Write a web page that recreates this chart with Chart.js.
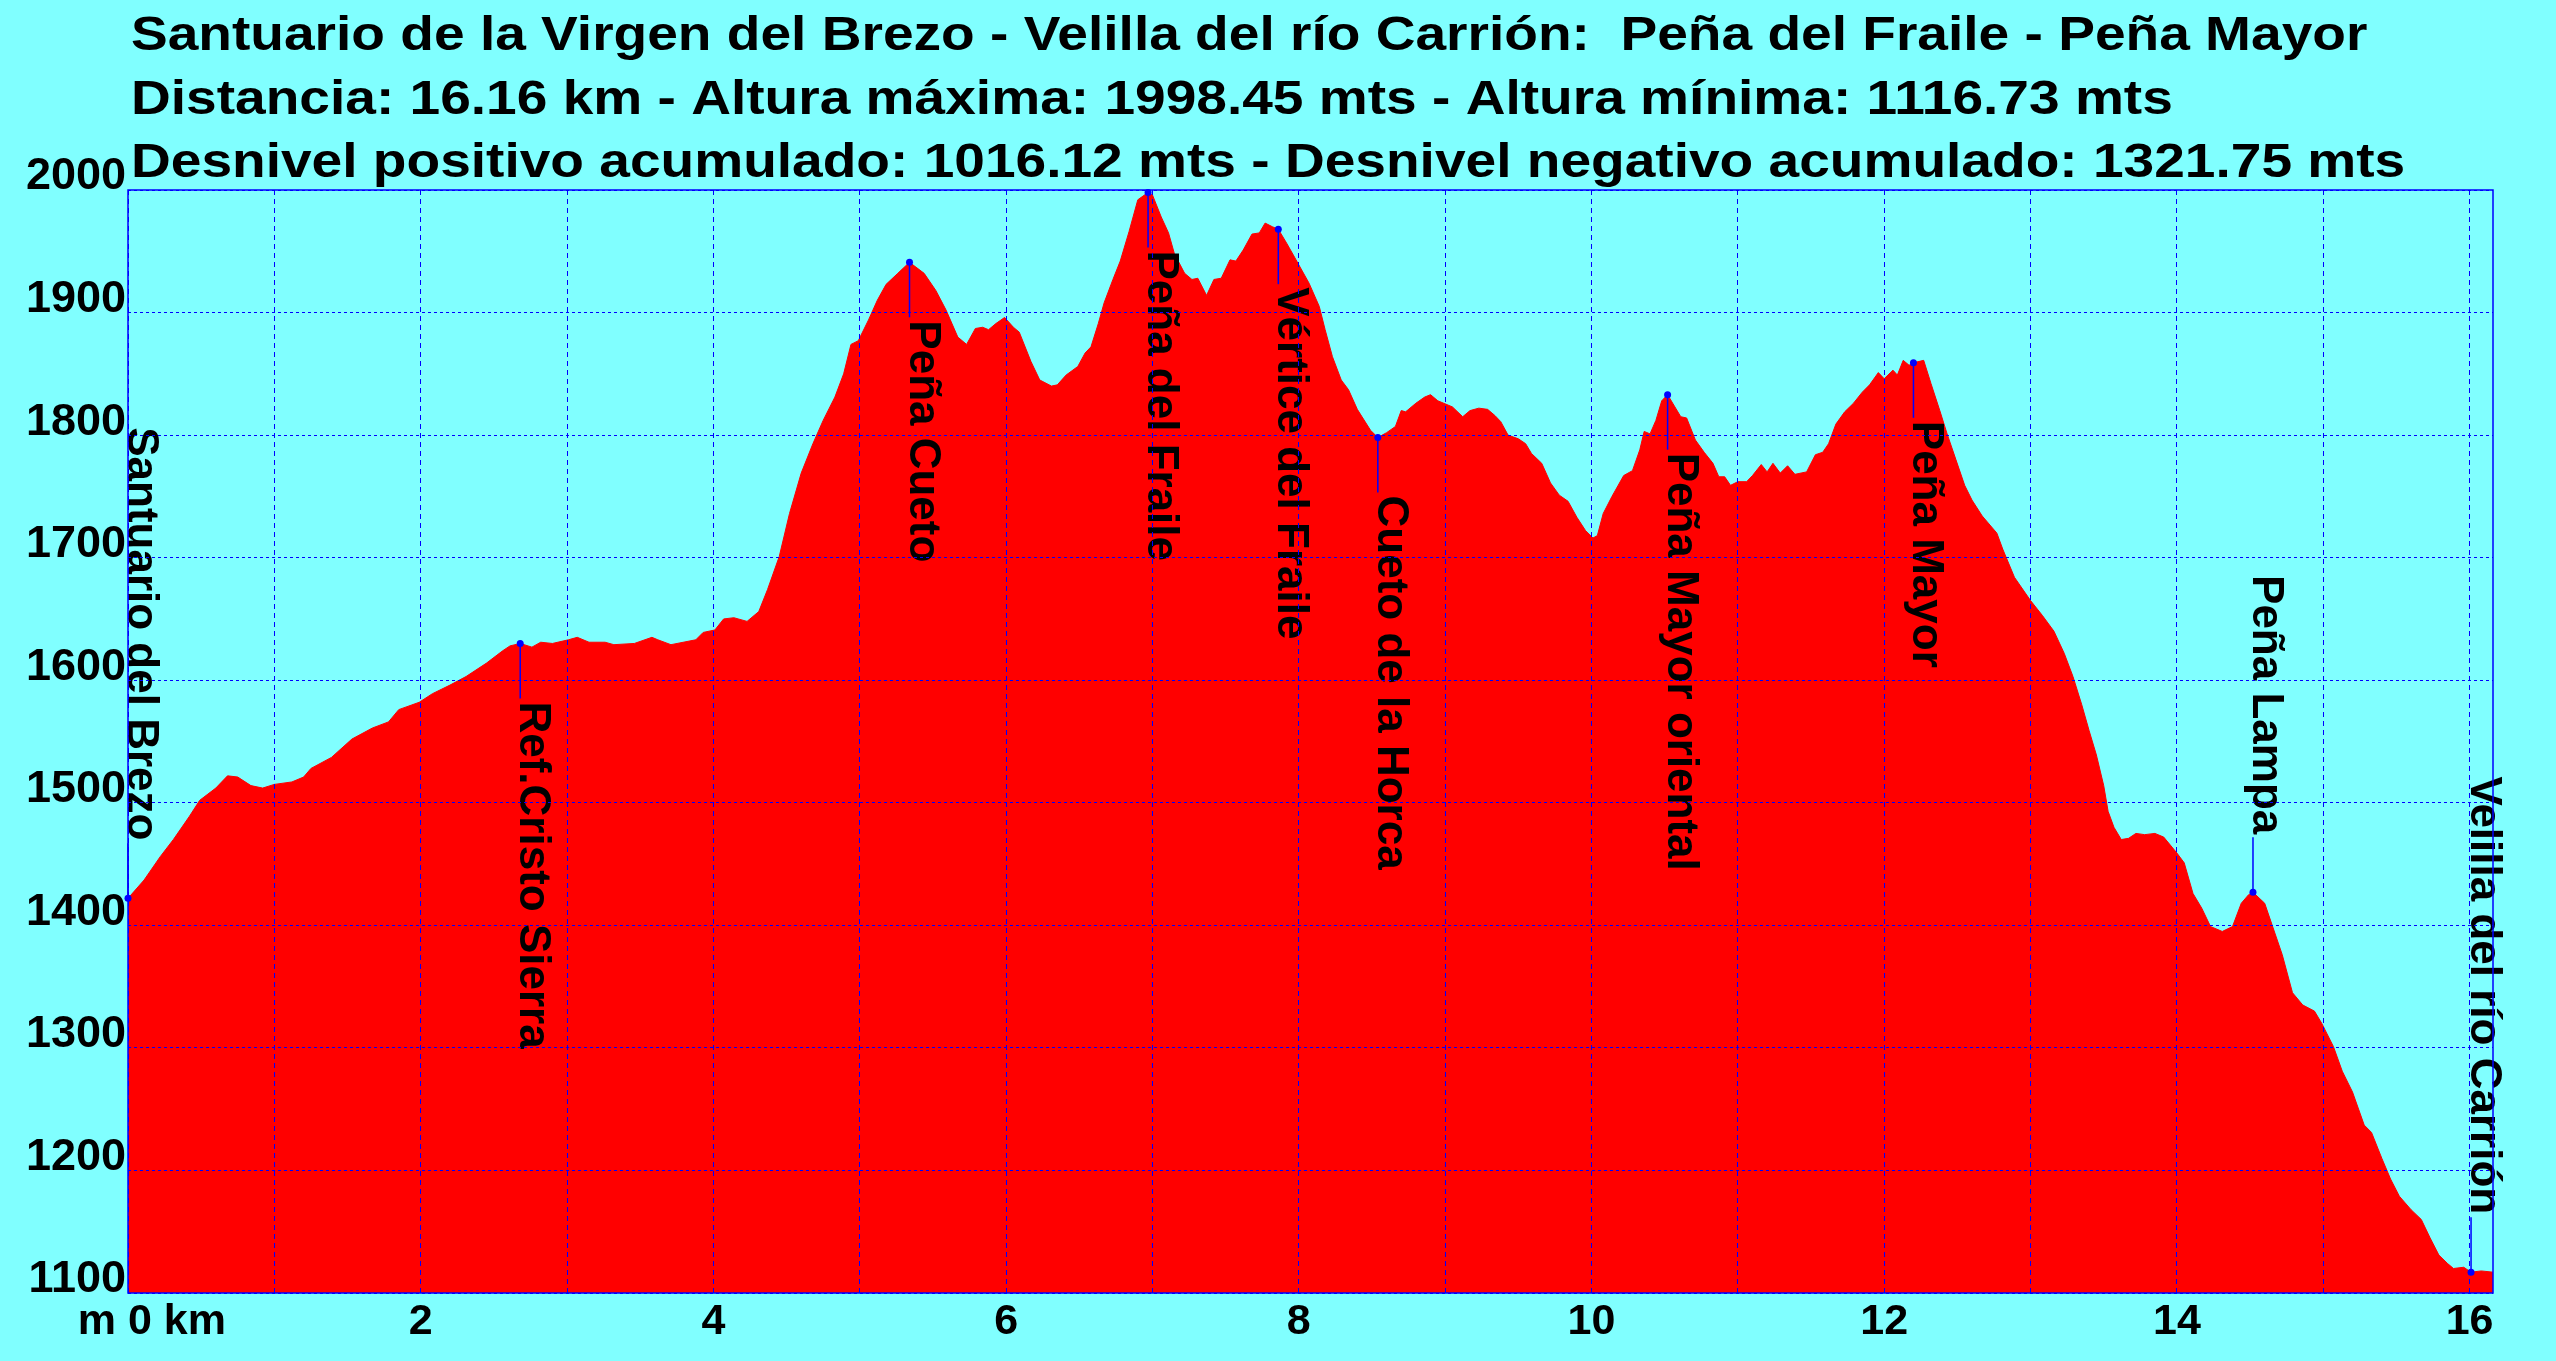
<!DOCTYPE html>
<html>
<head>
<meta charset="utf-8">
<script src="https://cdn.jsdelivr.net/npm/chart.js@4.4.0/dist/chart.umd.min.js"></script>
<style>
html, body { margin: 0; padding: 0; background: #80ffff; }
#wrap { width: 2556px; height: 1361px; position: relative; }
</style>
</head>
<body>
<div id="wrap"><canvas id="profileChart"></canvas></div>
<script>
const titleLines = [
    'Santuario de la Virgen del Brezo - Velilla del río Carrión:  Peña del Fraile - Peña Mayor',
    'Distancia: 16.16 km - Altura máxima: 1998.45 mts - Altura mínima: 1116.73 mts',
    'Desnivel positivo acumulado: 1016.12 mts - Desnivel negativo acumulado: 1321.75 mts'
];

// distance along the track (km) and elevation (m)
const distKm = [
    0, 0.11, 0.22, 0.31, 0.42, 0.49, 0.60, 0.68, 0.75, 0.84, 0.92, 1.00, 1.12, 1.20, 1.25, 1.39,
    1.53, 1.67, 1.78, 1.85, 1.99, 2.08, 2.20, 2.31, 2.45, 2.56, 2.61, 2.68, 2.76, 2.82, 2.90, 3.01,
    3.07, 3.15, 3.26, 3.32, 3.46, 3.58, 3.62, 3.71, 3.88, 3.93, 4.01, 4.07, 4.14, 4.23, 4.31, 4.37,
    4.45, 4.52, 4.60, 4.68, 4.75, 4.83, 4.89, 4.94, 4.99, 5.06, 5.12, 5.18, 5.26, 5.34, 5.44, 5.52,
    5.59, 5.67, 5.73, 5.79, 5.84, 5.88, 5.93, 5.99, 6.05, 6.09, 6.17, 6.23, 6.31, 6.35, 6.41, 6.49,
    6.54, 6.58, 6.63, 6.67, 6.73, 6.78, 6.84, 6.90, 6.97, 7.00, 7.06, 7.11, 7.15, 7.22, 7.27, 7.31,
    7.37, 7.42, 7.47, 7.53, 7.57, 7.62, 7.68, 7.73, 7.77, 7.82, 7.86, 7.92, 8.00, 8.07, 8.14, 8.18,
    8.23, 8.29, 8.34, 8.40, 8.49, 8.54, 8.60, 8.66, 8.70, 8.73, 8.80, 8.86, 8.90, 8.95, 9.05, 9.12,
    9.17, 9.23, 9.29, 9.34, 9.38, 9.43, 9.50, 9.55, 9.59, 9.66, 9.72, 9.78, 9.84, 9.90, 9.96, 10.01,
    10.04, 10.08, 10.14, 10.22, 10.28, 10.33, 10.36, 10.40, 10.44, 10.48, 10.52, 10.57, 10.61, 10.65, 10.71, 10.77,
    10.83, 10.87, 10.91, 10.95, 11.00, 11.06, 11.10, 11.16, 11.20, 11.24, 11.29, 11.34, 11.39, 11.47, 11.53, 11.58,
    11.62, 11.67, 11.73, 11.79, 11.85, 11.90, 11.96, 12.00, 12.06, 12.09, 12.13, 12.17, 12.20, 12.27, 12.32, 12.38,
    12.43, 12.49, 12.55, 12.60, 12.67, 12.77, 12.81, 12.89, 13.00, 13.08, 13.16, 13.23, 13.29, 13.35, 13.40, 13.45,
    13.50, 13.53, 13.57, 13.62, 13.67, 13.72, 13.78, 13.85, 13.91, 14.00, 14.05, 14.11, 14.17, 14.23, 14.31, 14.38,
    14.44, 14.49, 14.52, 14.60, 14.66, 14.72, 14.79, 14.86, 14.94, 14.99, 15.07, 15.13, 15.20, 15.28, 15.33, 15.40,
    15.46, 15.52, 15.60, 15.67, 15.73, 15.79, 15.85, 15.89, 15.96, 16.01, 16.08, 16.16
];
const elevM = [
    1422, 1437, 1456, 1470, 1489, 1502, 1512, 1522, 1521, 1514, 1512, 1515, 1517, 1521, 1528, 1537,
    1552, 1561, 1566, 1576, 1582, 1589, 1596, 1603, 1614, 1624, 1628, 1630, 1627, 1631, 1630, 1633,
    1635, 1631, 1631, 1629, 1630, 1635, 1633, 1629, 1633, 1639, 1641, 1650, 1651, 1648, 1656, 1674,
    1701, 1736, 1769, 1793, 1812, 1831, 1850, 1874, 1877, 1894, 1910, 1923, 1932, 1941, 1932, 1918,
    1902, 1880, 1874, 1887, 1888, 1886, 1891, 1896, 1888, 1884, 1860, 1845, 1840, 1841, 1849, 1856,
    1867, 1872, 1891, 1908, 1927, 1942, 1966, 1992, 1998, 1996, 1978, 1965, 1948, 1932, 1927, 1928,
    1914, 1927, 1928, 1943, 1942, 1951, 1964, 1965, 1973, 1970, 1968, 1956, 1939, 1924, 1905, 1886,
    1864, 1845, 1837, 1821, 1804, 1798, 1802, 1807, 1820, 1819, 1826, 1831, 1833, 1828, 1823, 1815,
    1820, 1822, 1821, 1816, 1811, 1800, 1797, 1793, 1785, 1777, 1761, 1751, 1746, 1733, 1722, 1716,
    1718, 1736, 1750, 1767, 1771, 1788, 1803, 1801, 1812, 1828, 1833, 1823, 1815, 1814, 1796, 1786,
    1777, 1766, 1766, 1759, 1762, 1762, 1767, 1776, 1770, 1777, 1769, 1775, 1768, 1770, 1784, 1786,
    1793, 1809, 1819, 1826, 1835, 1841, 1851, 1846, 1853, 1849, 1861, 1857, 1859, 1861, 1842, 1820,
    1801, 1780, 1759, 1747, 1734, 1720, 1707, 1684, 1665, 1653, 1640, 1622, 1603, 1580, 1559, 1539,
    1514, 1493, 1480, 1470, 1471, 1475, 1474, 1475, 1472, 1459, 1451, 1426, 1414, 1399, 1395, 1399,
    1418, 1425, 1427, 1418, 1397, 1376, 1345, 1335, 1330, 1320, 1301, 1281, 1264, 1237, 1231, 1210,
    1193, 1179, 1168, 1160, 1145, 1131, 1124, 1120, 1121, 1117, 1118, 1117
];

// named waypoints
const peakNames = [
    'Santuario del Brezo', 'Ref.Cristo Sierra', 'Peña Cueto', 'Peña del Fraile', 'Vértice del Fraile',
    'Cueto de la Horca', 'Peña Mayor oriental', 'Peña Mayor', 'Peña Lampa', 'Velilla del río Carrión'
];
const peakKm = [0, 2.68, 5.34, 6.97, 7.86, 8.54, 10.52, 12.20, 14.52, 16.01];
const peakElev = [1422, 1630, 1941, 1998, 1968, 1798, 1833, 1859, 1427, 1117];

const xLabelKm = [0, 2, 4, 6, 8, 10, 12, 14, 16];
const xLabelText = ['    m 0 km', '2', '4', '6', '8', '10', '12', '14', '16'];

const FONT = '"Liberation Sans", Arial, sans-serif';

const background = {
    id: 'background',
    beforeDraw(chart) {
        const ctx = chart.ctx;
        ctx.save();
        ctx.fillStyle = '#80ffff';
        ctx.fillRect(0, 0, chart.width, chart.height);
        ctx.restore();
    }
};

// the original heading font is a horizontally widened Arial Bold
const titleBlock = {
    id: 'titleBlock',
    afterDraw(chart) {
        const ctx = chart.ctx;
        const stretch = 1.124;
        ctx.save();
        ctx.font = 'bold 49px ' + FONT;
        ctx.fillStyle = '#000';
        ctx.textBaseline = 'alphabetic';
        ctx.scale(stretch, 1);
        titleLines.forEach((line, i) => {
            ctx.fillText(line, 131 / stretch, 50 + i * 63.5);
        });
        ctx.restore();
    }
};

const peakLabels = {
    id: 'peakLabels',
    afterDatasetsDraw(chart) {
        const {ctx, scales: {x, y}} = chart;
        const mid = (y.min + y.max) / 2;
        ctx.save();
        ctx.font = 'bold 44px ' + FONT;
        ctx.fillStyle = '#000';
        ctx.strokeStyle = '#0000ff';
        ctx.lineWidth = 1.5;
        peakNames.forEach((name, i) => {
            const px = x.getPixelForValue(peakKm[i]);
            const py = y.getPixelForValue(peakElev[i]);
            const up = peakElev[i] < mid;
            const stemEnd = up ? py - 55 : py + 55;
            ctx.beginPath();
            ctx.moveTo(px, py);
            ctx.lineTo(px, stemEnd);
            ctx.stroke();
            const w = ctx.measureText(name).width;
            const start = up ? stemEnd - 3 - w : stemEnd + 3;
            ctx.save();
            ctx.translate(px, start);
            ctx.rotate(Math.PI / 2);
            ctx.fillText(name, 0, 0);
            ctx.restore();
        });
        ctx.restore();
    }
};

const frame = {
    id: 'frame',
    afterDraw(chart) {
        const {ctx, chartArea: a} = chart;
        ctx.save();
        ctx.strokeStyle = '#0000ff';
        ctx.lineWidth = 1.5;
        ctx.strokeRect(a.left, a.top, a.right - a.left, a.bottom - a.top);
        ctx.restore();
    }
};

const ctx = document.getElementById('profileChart').getContext('2d');

new Chart(ctx, {
    type: 'line',
    data: {
        datasets: [
            {
                label: 'Perfil',
                data: distKm.map((k, i) => ({x: k, y: elevM[i]})),
                fill: 'start',
                backgroundColor: '#ff0000',
                borderColor: '#ff0000',
                borderWidth: 1,
                pointRadius: 0,
                tension: 0,
                order: 2,
            },
            {
                label: 'Puntos',
                data: peakKm.map((k, i) => ({x: k, y: peakElev[i]})),
                showLine: false,
                pointRadius: 3.5,
                pointBackgroundColor: '#0000ff',
                pointBorderWidth: 0,
                clip: false,
                order: 1,
            },
        ],
    },
    options: {
        responsive: true,
        maintainAspectRatio: false,
        animation: false,
        layout: {
            padding: {left: 0, right: 63, top: 190, bottom: 8}
        },
        plugins: {
            legend: {display: false},
            tooltip: {enabled: false},
            title: {display: false}
        },
        scales: {
            x: {
                type: 'linear',
                min: 0,
                max: 16.16,
                grid: {
                    color: '#0000ff',
                    lineWidth: 1,
                    drawTicks: false,
                    borderDash: [5, 4],
                    z: 1
                },
                border: {display: false, dash: [5, 4]},
                ticks: {
                    stepSize: 1,
                    includeBounds: false,
                    autoSkip: false,
                    maxRotation: 0,
                    padding: 3,
                    color: '#000',
                    font: {family: FONT, size: 43, weight: 'bold'},
                    callback: function (value) {
                        const idx = xLabelKm.indexOf(value);
                        return idx >= 0 ? xLabelText[idx] : '';
                    }
                },
                afterFit: function (scale) {
                    scale.height = 60;
                }
            },
            y: {
                min: 1100,
                max: 2000,
                grid: {
                    color: '#0000ff',
                    lineWidth: 1,
                    drawTicks: false,
                    borderDash: [3, 3],
                    z: 1
                },
                border: {display: false, dash: [3, 3]},
                ticks: {
                    stepSize: 100,
                    padding: 2,
                    labelOffset: -13,
                    color: '#000',
                    font: {family: FONT, size: 45, weight: 'bold'},
                    callback: function (value) {
                        return String(value);
                    }
                },
                afterFit: function (scale) {
                    scale.width = 128;
                }
            }
        }
    },
    plugins: [background, peakLabels, frame, titleBlock]
});
</script>
</body>
</html>
